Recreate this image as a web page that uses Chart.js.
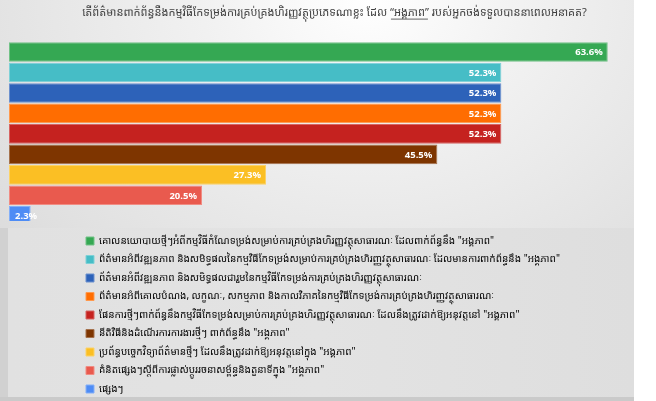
<!DOCTYPE html>
<html>
<head>
<meta charset="utf-8">
<script src="https://cdn.jsdelivr.net/npm/chart.js@4/dist/chart.umd.min.js"></script>
<style>
  html, body { margin: 0; padding: 0; background: #ffffff; }
  #wrap { position: relative; width: 656px; height: 401px; overflow: hidden; background: #ffffff; }
  #panel { position: absolute; left: 0; top: 0; width: 634px; height: 397px;
    background: radial-gradient(ellipse 75% 95% at 58% 0%, #ffffff 0%, #f1f1f1 35%, #dcdcdc 100%); }
  #legendPanel { position: absolute; left: 8px; top: 228px; width: 626px; height: 169px;
    background: linear-gradient(90deg, #e1e1e1 0%, #e3e3e3 50%, #dedede 100%); }
  #leftStrip { position: absolute; left: 0; top: 228px; width: 8px; height: 169px; background: #d1d1d1; }
  #bottomStrip { position: absolute; left: 0; top: 397px; width: 634px; height: 4px; background: #cacaca; }
  canvas { position: absolute; left: 0; top: 0; }
</style>
</head>
<body>
<div id="wrap">
  <div id="panel"></div>
  <div id="legendPanel"></div>
  <div id="leftStrip"></div>
  <div id="bottomStrip"></div>
  <canvas id="c" width="656" height="401"></canvas>
</div>
<script>
// ---- data ----
const titleText = 'តើព័ត៌មានពាក់ព័ន្ធនឹងកម្មវិធីកែទម្រង់ការគ្រប់គ្រងហិរញ្ញវត្ថុប្រភេទណាខ្លះ ដែល “អង្គភាព” របស់អ្នកចង់ទទួលបាននាពេលអនាគត?';
const titleUnderlined = '“អង្គភាព”';
const categories = [
  'គោលនយោបាយថ្មីៗអំពីកម្មវិធីកំណែទម្រង់សម្រាប់ការគ្រប់គ្រងហិរញ្ញវត្ថុសាធារណៈ ដែលពាក់ព័ន្ធនឹង "អង្គភាព"',
  'ព័ត៌មានអំពីវឌ្ឍនភាព និងសមិទ្ធផលនៃកម្មវិធីកែទម្រង់សម្រាប់ការគ្រប់គ្រងហិរញ្ញវត្ថុសាធារណៈ ដែលមានការពាក់ព័ន្ធនឹង "អង្គភាព"',
  'ព័ត៌មានអំពីវឌ្ឍនភាព និងសមិទ្ធផលជារួមនៃកម្មវិធីកែទម្រង់ការគ្រប់គ្រងហិរញ្ញវត្ថុសាធារណៈ',
  'ព័ត៌មានអំពីគោលបំណង, លក្ខណៈ, សកម្មភាព និងកាលវិភាគនៃកម្មវិធីកែទម្រង់ការគ្រប់គ្រងហិរញ្ញវត្ថុសាធារណៈ',
  'ផែនការថ្មីៗពាក់ព័ន្ធនឹងកម្មវិធីកែទម្រង់សម្រាប់ការគ្រប់គ្រងហិរញ្ញវត្ថុសាធារណៈ ដែលនឹងត្រូវដាក់ឱ្យអនុវត្តនៅ "អង្គភាព"',
  'នីតិវិធីនិងដំណើរការការងារថ្មីៗ ពាក់ព័ន្ធនឹង "អង្គភាព"',
  'ប្រព័ន្ធបច្ចេកវិទ្យាព័ត៌មានថ្មីៗ ដែលនឹងត្រូវដាក់ឱ្យអនុវត្តនៅក្នុង "អង្គភាព"',
  'គំនិតផ្សេងៗស្តីពីការផ្លាស់ប្តូររចនាសម្ព័ន្ធនិងតួនាទីក្នុង "អង្គភាព"',
  'ផ្សេងៗ'
];
const percentValues = [63.6, 52.3, 52.3, 52.3, 52.3, 45.5, 27.3, 20.5, 2.3];
const barColors = ['#35a853', '#46bdc6', '#2d62b9', '#ff6d01', '#c5221f', '#7e3500', '#fbbf24', '#e95a4e', '#4e8cf5'];

// ---- helpers / plugins ----
function lighten(hex, t) {
  const n = parseInt(hex.slice(1), 16);
  const r = (n >> 16) & 255, g = (n >> 8) & 255, b = n & 255;
  const m = c => Math.round(c + (255 - c) * t);
  return 'rgb(' + m(r) + ',' + m(g) + ',' + m(b) + ')';
}
const khmerFont = "'Noto Sans Khmer', 'Khmer OS', 'Noto Sans', 'DejaVu Sans', sans-serif";
const titleFontSize = 11;

const legendFix = {
  id: 'legendFix',
  beforeLayout(chart) {
    const lg = chart.legend;
    if (lg && !lg._patched) {
      const orig = lg.fit;
      lg.fit = function () {
        const mw = this.maxWidth;
        this.maxWidth = 300;
        orig.call(this);
        this.maxWidth = mw;
        this.width = mw;
        this.height = 175;
      };
      lg.draw = function () {
        if (this.options.display) this._draw();
      };
      lg._patched = true;
    }
  },
  afterUpdate(chart) {
    const lg = chart.legend;
    if (lg) {
      lg.left = 77.5;
      lg.right = 77.5 + 300;
      lg.top = 227.5;
    }
    const tb = chart.titleBlock;
    if (tb) {
      tb.left += 24;
    }
  }
};

const titleUnderline = {
  id: 'titleUnderline',
  afterDraw(chart) {
    const tb = chart.titleBlock;
    if (!tb) return;
    const ctx = chart.ctx;
    ctx.save();
    ctx.font = titleFontSize + 'px ' + khmerFont;
    const total = ctx.measureText(titleText).width;
    const idx = titleText.indexOf(titleUnderlined);
    const pre = ctx.measureText(titleText.slice(0, idx)).width;
    const seg = ctx.measureText(titleUnderlined).width;
    const cx = (tb.left + tb.right) / 2;
    const x0 = cx - total / 2 + pre;
    const yLine = tb.top + 6 + 6.6 + 6.5;
    ctx.strokeStyle = '#3f3f3f';
    ctx.lineWidth = 0.8;
    ctx.beginPath();
    ctx.moveTo(x0 + 1, yLine);
    ctx.lineTo(x0 + seg - 1, yLine);
    ctx.stroke();
    ctx.restore();
  }
};

const valueLabels = {
  id: 'valueLabels',
  afterDatasetsDraw(chart) {
    const ctx = chart.ctx;
    const meta = chart.getDatasetMeta(0);
    ctx.save();
    ctx.font = "bold 9.5px 'Open Sans', 'Liberation Sans', sans-serif";
    ctx.fillStyle = '#ffffff';
    ctx.textAlign = 'right';
    ctx.textBaseline = 'middle';
    meta.data.forEach((el, i) => {
      const txt = percentValues[i].toFixed(1) + '%';
      const w = ctx.measureText(txt).width;
      const xr = Math.max(el.x - 5, el.base + 6 + w);
      ctx.fillText(txt, xr, el.y + 0.5);
    });
    ctx.restore();
  }
};

new Chart(document.getElementById('c'), {
  type: 'bar',
  data: {
    labels: categories,
    datasets: [{
      data: percentValues,
      backgroundColor: barColors,
      borderColor: barColors.map(c => lighten(c, 0.3)),
      borderWidth: 1,
      borderSkipped: false,
      barPercentage: 0.96,
      categoryPercentage: 1,
      clip: { left: 10, top: 10, right: 10, bottom: -5 }
    }]
  },
  options: {
    indexAxis: 'y',
    responsive: false,
    animation: false,
    layout: { padding: { left: 9, right: 20, top: 0, bottom: 0 } },
    scales: {
      x: { display: false, min: 0, max: 66.6 },
      y: { display: false }
    },
    plugins: {
      title: {
        display: true,
        text: titleText,
        color: '#3f3f3f',
        font: { family: khmerFont, size: titleFontSize, weight: 'normal', lineHeight: 1.2 },
        padding: { top: 6, bottom: 22.6 }
      },
      legend: {
        display: true,
        position: 'bottom',
        align: 'start',
        labels: {
          boxWidth: 8,
          boxHeight: 8,
          padding: 8.5,
          color: '#4a4a4a',
          font: { family: khmerFont, size: 10 },
          generateLabels: (chart) => categories.map((t, i) => ({
            text: t,
            fillStyle: barColors[i],
            strokeStyle: lighten(barColors[i], 0.3),
            lineWidth: 1,
            hidden: false,
            index: i,
            datasetIndex: 0
          }))
        }
      },
      tooltip: { enabled: false }
    }
  },
  plugins: [legendFix, titleUnderline, valueLabels]
});
</script>
</body>
</html>
